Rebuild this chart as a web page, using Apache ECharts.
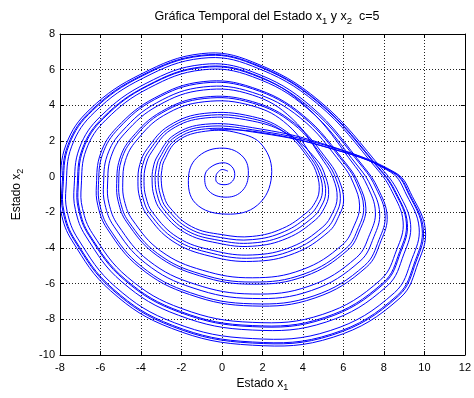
<!DOCTYPE html>
<html>
<head>
<meta charset="utf-8">
<script src="https://cdn.jsdelivr.net/npm/echarts@6/dist/echarts.min.js"></script>
<style>
html,body{margin:0;padding:0;background:#fff;}
#c{width:474px;height:398px;}
</style>
</head>
<body>
<div id="c"></div>
<script>
// Tick values
const xTicks = [-8, -6, -4, -2, 0, 2, 4, 6, 8, 10, 12];
const yTicks = [-10, -8, -6, -4, -2, 0, 2, 4, 6, 8];

// Trajectory (x1, x2), one array per revolution
const spiral = [[0.3,0.3],[0.0,0.4],[-0.22,0.22],[-0.3,0.0],[-0.25,-0.32],[0.1,-0.45],[0.45,-0.33],[0.63,0.05],[0.5,0.55],[0.05,0.78],[-0.6,0.5],[-0.85,0.0],[-0.65,-0.8],[0.15,-1.15],[0.95,-0.85],[1.3,0.05],[1.05,1.1],[0.05,1.6],[-1.15,1.15],[-1.65,0.0],[-1.3,-1.5],[0.2,-2.1],[1.75,-1.6],[2.45,0.05],[2.0,1.75],[0.8,2.45]];
const loop01 = [[-0.8,2.55],[-2.2,2.0],[-2.85,0.9],[-2.97,0.35],[-3.0,-0.2],[-2.9,-0.95],[-2.6,-1.7],[-1.5,-2.8],[0,-3.25],[1.5,-3.35],[3.0,-2.9],[4.2,-2.0],[4.6,-1.45],[4.8,-0.8],[4.7,0.1],[4.3,1.0],[3.14,2.45],[1.5,3.25]];
const loop02 = [[-0.84,3.42],[-2.56,2.75],[-3.58,1.48],[-3.92,0.64],[-4.0,-0.28],[-3.91,-1.16],[-3.56,-2.08],[-2.3,-3.52],[-0.5,-4.3],[1.5,-4.57],[3.5,-4.12],[5.12,-2.96],[5.62,-2.12],[5.85,-1.24],[5.64,-0.14],[5.16,0.84],[3.52,2.96],[1.5,4.13]];
const loop03 = [[-0.88,4.38],[-2.96,3.58],[-4.38,2.12],[-4.96,0.96],[-5.1,-0.37],[-5.02,-1.39],[-4.62,-2.5],[-3.18,-4.31],[-1.05,-5.46],[1.5,-5.91],[4.05,-5.46],[6.13,-4.02],[6.74,-2.86],[7.0,-1.72],[6.67,-0.4],[6.11,0.66],[3.95,3.41],[1.5,4.93]];
const loop04 = [[-0.92,5.25],[-3.32,4.33],[-5.11,2.7],[-5.9,1.25],[-6.1,-0.45],[-6.03,-1.6],[-5.58,-2.88],[-3.98,-5.03],[-1.55,-6.51],[1.5,-7.13],[4.55,-6.68],[7.05,-4.98],[7.76,-3.53],[8.06,-2.16],[7.61,-0.64],[6.97,0.5],[4.34,3.87],[1.5,5.73]];
const loop05 = [[-0.96,6.12],[-3.68,5.08],[-5.84,3.28],[-6.85,1.54],[-7.1,-0.53],[-7.04,-1.81],[-6.54,-3.26],[-4.78,-5.75],[-2.05,-7.56],[1.5,-8.35],[5.05,-7.9],[7.97,-5.94],[8.78,-4.2],[9.11,-2.6],[8.55,-0.88],[7.83,0.34],[4.72,4.2],[1.5,6.32]];
const loop06 = [[-0.99,6.77],[-3.95,5.64],[-6.39,3.71],[-7.56,1.76],[-7.85,-0.59],[-7.8,-1.97],[-7.26,-3.54],[-5.38,-6.29],[-2.43,-8.34],[1.5,-9.27],[5.43,-8.82],[8.66,-6.66],[9.55,-4.7],[9.89,-2.93],[9.26,-1.06],[8.47,0.22],[5.01,1.7],[1.5,2.51]];
const loop07 = [[-0.81,2.68],[-2.25,2.11],[-2.96,0.99],[-3.11,0.39],[-3.15,-0.21],[-3.05,-0.98],[-2.74,-1.76],[-1.62,-2.91],[-0.08,-3.41],[1.5,-3.53],[3.08,-3.08],[4.34,-2.14],[4.75,-1.55],[4.96,-0.87],[4.84,0.06],[4.43,0.98],[3.19,2.52],[1.5,3.37]];
const loop08 = [[-0.85,3.55],[-2.61,2.86],[-3.69,1.57],[-4.06,0.68],[-4.15,-0.29],[-4.06,-1.19],[-3.7,-2.14],[-2.42,-3.63],[-0.58,-4.46],[1.5,-4.75],[3.58,-4.3],[5.26,-3.1],[5.77,-2.22],[6.01,-1.31],[5.78,-0.18],[5.29,0.82],[3.58,3.0],[1.5,4.21]];
const loop09 = [[-0.89,4.46],[-2.99,3.65],[-4.46,2.18],[-5.05,0.99],[-5.2,-0.38],[-5.12,-1.41],[-4.71,-2.54],[-3.26,-4.38],[-1.1,-5.56],[1.5,-6.03],[4.1,-5.58],[6.22,-4.11],[6.84,-2.92],[7.11,-1.77],[6.77,-0.43],[6.19,0.65],[3.99,3.46],[1.5,5.0]];
const loop10 = [[-0.93,5.33],[-3.35,4.4],[-5.19,2.76],[-6.0,1.28],[-6.2,-0.46],[-6.13,-1.62],[-5.67,-2.92],[-4.06,-5.1],[-1.6,-6.61],[1.5,-7.25],[4.6,-6.8],[7.14,-5.07],[7.86,-3.59],[8.16,-2.21],[7.71,-0.67],[7.05,0.49],[4.37,3.97],[1.5,5.88]];
const loop11 = [[-0.97,6.29],[-3.75,5.23],[-5.99,3.39],[-7.04,1.6],[-7.3,-0.54],[-7.24,-1.85],[-6.73,-3.33],[-4.94,-5.9],[-2.15,-7.77],[1.5,-8.6],[5.15,-8.15],[8.16,-6.13],[8.99,-4.33],[9.32,-2.69],[8.74,-0.93],[8.0,0.31],[4.8,4.26],[1.5,6.44]];
const loop12 = [[-1.0,6.9],[-4.0,5.75],[-6.5,3.8],[-7.7,1.8],[-8.0,-0.6],[-7.95,-2.0],[-7.4,-3.6],[-5.5,-6.4],[-2.5,-8.5],[1.5,-9.45],[5.5,-9.0],[8.8,-6.8],[9.7,-4.8],[10.05,-3.0],[9.4,-1.1],[8.6,0.2],[5.07,1.77],[1.5,2.63]];
const loop13 = [[-0.81,2.81],[-2.31,2.23],[-3.07,1.07],[-3.25,0.44],[-3.3,-0.22],[-3.2,-1.01],[-2.89,-1.81],[-1.74,-3.02],[-0.15,-3.57],[1.5,-3.72],[3.15,-3.27],[4.48,-2.29],[4.91,-1.65],[5.12,-0.93],[4.98,0.03],[4.56,0.95],[3.25,2.9],[1.5,3.97]];
const loop14 = [[-0.88,4.2],[-2.88,3.43],[-4.24,2.0],[-4.77,0.9],[-4.9,-0.35],[-4.82,-1.35],[-4.42,-2.42],[-3.02,-4.17],[-0.95,-5.25],[1.5,-5.67],[3.95,-5.22],[5.95,-3.82],[6.54,-2.72],[6.8,-1.64],[6.49,-0.36],[5.93,0.7],[3.87,3.3],[1.5,4.73]];
const loop15 = [[-0.91,5.03],[-3.23,4.14],[-4.93,2.55],[-5.67,1.18],[-5.85,-0.43],[-5.78,-1.55],[-5.34,-2.78],[-3.78,-4.85],[-1.43,-6.24],[1.5,-6.83],[4.43,-6.38],[6.82,-4.74],[7.51,-3.36],[7.79,-2.05],[7.38,-0.58],[6.75,0.54],[4.24,3.81],[1.5,5.61]];
const loop16 = [[-0.96,5.99],[-3.62,4.96],[-5.73,3.19],[-6.71,1.5],[-6.95,-0.52],[-6.89,-1.78],[-6.39,-3.2],[-4.66,-5.64],[-1.98,-7.4],[1.5,-8.17],[4.98,-7.72],[7.83,-5.79],[8.63,-4.1],[8.95,-2.54],[8.41,-0.85],[7.7,0.37],[4.67,4.13],[1.5,6.2]];
const loop17 = [[-0.99,6.64],[-3.89,5.53],[-6.28,3.63],[-7.42,1.71],[-7.7,-0.58],[-7.65,-1.94],[-7.11,-3.49],[-5.26,-6.18],[-2.35,-8.19],[1.5,-9.08],[5.35,-8.63],[8.52,-6.51],[9.39,-4.6],[9.74,-2.87],[9.12,-1.03],[8.34,0.25],[4.95,1.86],[1.5,2.75]];
const loop18 = [[-0.82,2.94],[-2.36,2.34],[-3.18,1.16],[-3.4,0.48],[-3.45,-0.24],[-3.36,-1.05],[-3.03,-1.87],[-1.86,-3.12],[-0.23,-3.72],[1.5,-3.9],[3.23,-3.45],[4.61,-2.43],[5.06,-1.75],[5.27,-1.0],[5.12,-0.01],[4.69,0.93],[3.31,2.35],[1.5,3.12]];
const loop19 = [[-0.83,3.29],[-2.51,2.64],[-3.47,1.39],[-3.77,0.6],[-3.85,-0.27],[-3.76,-1.13],[-3.42,-2.02],[-2.18,-3.41],[-0.43,-4.14],[1.5,-4.39],[3.43,-3.94],[4.98,-2.82],[5.47,-2.02],[5.69,-1.17],[5.5,-0.1],[5.03,0.86],[3.46,3.26],[1.5,4.58]];
const loop20 = [[-0.91,4.86],[-3.15,3.99],[-4.79,2.44],[-5.48,1.12],[-5.65,-0.41],[-5.58,-1.51],[-5.14,-2.71],[-3.62,-4.71],[-1.33,-6.03],[1.5,-6.58],[4.33,-6.13],[6.64,-4.54],[7.3,-3.23],[7.58,-1.97],[7.19,-0.54],[6.58,0.58],[4.16,3.93],[1.5,5.77]];
const loop21 = [[-0.97,6.16],[-3.69,5.11],[-5.88,3.31],[-6.9,1.55],[-7.15,-0.53],[-7.09,-1.82],[-6.58,-3.28],[-4.82,-5.79],[-2.08,-7.61],[1.5,-8.41],[5.08,-7.96],[8.02,-5.98],[8.83,-4.23],[9.16,-2.63],[8.6,-0.9],[7.87,0.34],[4.74,4.22],[1.5,6.36]];
const loop22 = [[-1.0,6.81],[-3.96,5.68],[-6.43,3.74],[-7.61,1.77],[-7.9,-0.59],[-7.85,-1.98],[-7.3,-3.56],[-5.42,-6.33],[-2.45,-8.4],[1.5,-9.33],[5.45,-8.88],[8.71,-6.7],[9.6,-4.73],[9.95,-2.96],[9.31,-1.08],[8.51,0.22],[5.03,1.7],[1.5,2.55],[-0.6,2.62]];

const trajectory = [].concat(spiral, loop01, loop02, loop03, loop04, loop05, loop06, loop07, loop08, loop09, loop10, loop11, loop12, loop13, loop14, loop15, loop16, loop17, loop18, loop19, loop20, loop21, loop22);

const FONT = '"Liberation Sans", Arial, sans-serif';
function richSub(size) {
  return {
    n: {fontSize: size, fontFamily: FONT, color: '#000'},
    s: {fontSize: size - 3, fontFamily: FONT, color: '#000', padding: [8, 0, 0, 0]}
  };
}

const chart = echarts.init(document.getElementById('c'), null, {renderer: 'canvas'});
const baseAxis = {
  type: 'value',
  axisLine: {show: true, onZero: false, lineStyle: {color: '#000', width: 1}},
  axisTick: {show: true, inside: true, length: 4, lineStyle: {color: '#000'}},
  axisLabel: {color: '#000', fontSize: 11, fontFamily: FONT},
  splitLine: {show: true, lineStyle: {color: '#222', type: [1, 2], width: 1}}
};
chart.setOption({
  animation: false,
  backgroundColor: '#fff',
  title: {
    text: '{n|Gráfica Temporal del Estado x}{s|1}{n| y x}{s|2}{n|  c=5}',
    left: 262, top: 3, textAlign: 'center',
    textStyle: {rich: richSub(12.5), fontSize: 12.5, fontWeight: 'normal'}
  },
  grid: {left: 60, right: 4, top: 34, bottom: 43, containLabel: false},
  xAxis: [
    Object.assign({}, baseAxis, {
      position: 'bottom', min: xTicks[0], max: xTicks[xTicks.length - 1], interval: 2,
      axisLabel: Object.assign({}, baseAxis.axisLabel, {margin: 7}),
      name: '{n|Estado x}{s|1}', nameLocation: 'middle', nameGap: 20,
      nameTextStyle: {rich: richSub(12)}
    }),
    Object.assign({}, baseAxis, {
      position: 'top', min: xTicks[0], max: xTicks[xTicks.length - 1], interval: 2,
      axisLabel: {show: false}, splitLine: {show: false}
    })
  ],
  yAxis: [
    Object.assign({}, baseAxis, {
      position: 'left', min: yTicks[0], max: yTicks[yTicks.length - 1], interval: 2,
      axisLabel: Object.assign({}, baseAxis.axisLabel, {margin: 5}),
      name: '{n|Estado x}{s|2}', nameLocation: 'middle', nameGap: 35, nameRotate: 90,
      nameTextStyle: {rich: richSub(12)}
    }),
    Object.assign({}, baseAxis, {
      position: 'right', min: yTicks[0], max: yTicks[yTicks.length - 1], interval: 2,
      axisLabel: {show: false}, splitLine: {show: false}
    })
  ],
  series: [{
    type: 'custom',
    coordinateSystem: 'cartesian2d',
    xAxisIndex: 0, yAxisIndex: 0,
    data: trajectory,
    encode: {x: 0, y: 1},
    clip: true,
    silent: true,
    renderItem: function (params, api) {
      if (params.dataIndex !== 0) return null;
      const pts = trajectory.map(function (p) { return api.coord(p); });
      return {
        type: 'polyline',
        shape: {points: pts, smooth: 0.4},
        style: {stroke: '#0000ff', fill: null, lineWidth: 1}
      };
    }
  }]
});
</script>
</body>
</html>
